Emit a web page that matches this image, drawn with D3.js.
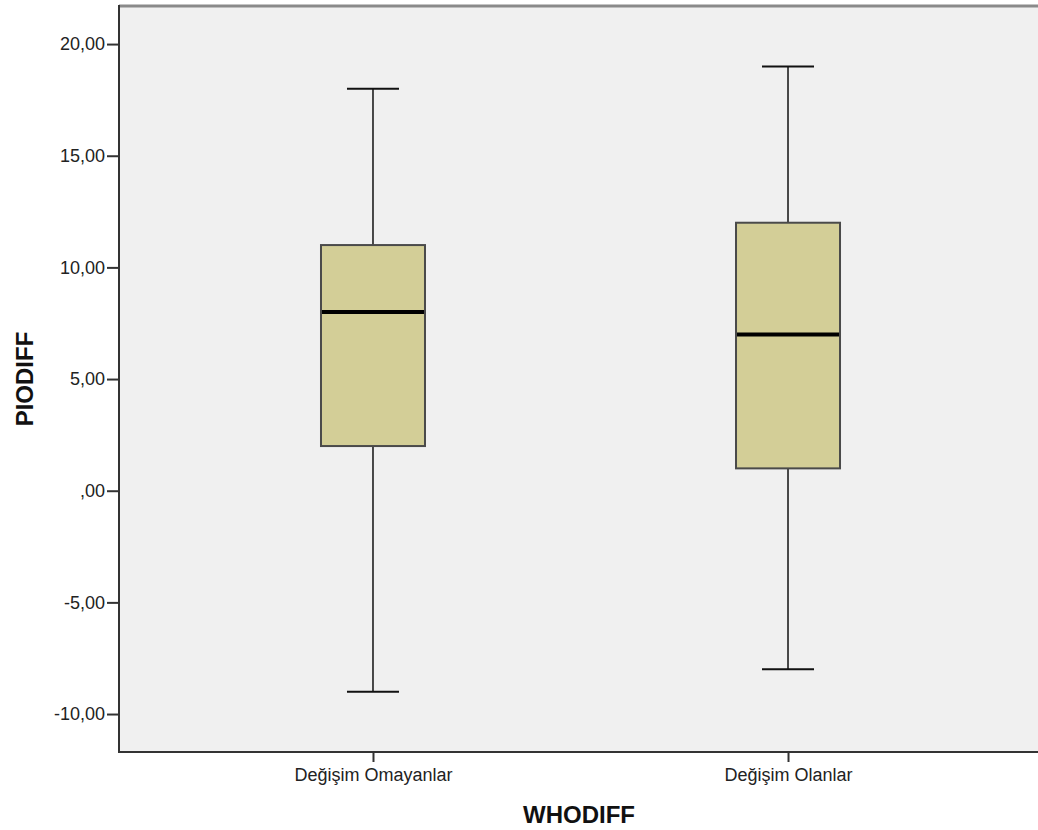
<!DOCTYPE html>
<html lang="tr">
<head>
<meta charset="utf-8">
<title>PIODIFF by WHODIFF</title>
<script src="https://cdn.jsdelivr.net/npm/d3@7"></script>
<style>
    body { margin: 0; background: #fff; }
    .axis text { font-family: "Liberation Sans", Arial, sans-serif; font-size: 18px; fill: #222; }
    .axis path, .axis line { stroke: #333; }
    .title { font-family: "Liberation Sans", Arial, sans-serif; font-weight: bold; font-size: 24px; fill: #111; }
</style>
</head>
<body>
<script>
var groups = ["Değişim Omayanlar", "Değişim Olanlar"];
var mins = [-9, -8];
var q1s = [2, 1];
var medians = [8, 7];
var q3s = [11, 12];
var maxs = [18, 19];
var yTicks = [-10, -5, 0, 5, 10, 15, 20];

var w = 1038, h = 830;
var plotL = 119, plotT = 7, plotR = 1038, plotB = 752;

var svg = d3.select("body").append("svg")
    .attr("width", w)
    .attr("height", h);

var xScale = d3.scalePoint()
    .domain(groups)
    .range([plotL, plotR + 4])
    .padding(0.612);

var yScale = d3.scaleLinear()
    .domain([-11.7, 21.66])
    .range([plotB, plotT]);

// plot background
svg.append("rect")
    .attr("x", plotL).attr("y", plotT)
    .attr("width", plotR - plotL).attr("height", plotB - plotT)
    .attr("fill", "#f0f0f0");

svg.append("line")
    .attr("x1", plotL).attr("x2", plotR)
    .attr("y1", plotT - 1).attr("y2", plotT - 1)
    .attr("stroke", "#8a8a8a").attr("stroke-width", 3);

// SPSS style: comma decimals, ",00" for zero, plain hyphen minus
var fmt = function(d) {
    if (d === 0) return ",00";
    return d.toFixed(2).replace(".", ",");
};

var yAxis = d3.axisLeft(yScale).tickValues(yTicks).tickFormat(fmt).tickSize(12).tickPadding(2);
var gy = svg.append("g").attr("class", "axis")
    .attr("transform", "translate(" + plotL + ",0)")
    .call(yAxis);
gy.select(".domain").attr("d", "M0," + (plotT - 2) + "V" + plotB).attr("stroke-width", 2);
gy.selectAll(".tick line").attr("stroke-width", 2);

var xAxis = d3.axisBottom(xScale).tickSize(10).tickPadding(6);
var gx = svg.append("g").attr("class", "axis")
    .attr("transform", "translate(0," + plotB + ")")
    .call(xAxis);
gx.select(".domain").attr("d", "M" + (plotL - 1) + ",0H" + plotR).attr("stroke-width", 2);
gx.selectAll(".tick line").attr("stroke-width", 2);

var boxW = 104, capW = 52;
var stats = groups.map(function(g, i) {
    return { g: g, min: mins[i], q1: q1s[i], med: medians[i], q3: q3s[i], max: maxs[i] };
});

var box = svg.selectAll(".box").data(stats).enter().append("g").attr("class", "box");

// whiskers
box.append("line")
    .attr("x1", function(d) { return xScale(d.g); })
    .attr("x2", function(d) { return xScale(d.g); })
    .attr("y1", function(d) { return yScale(d.max); })
    .attr("y2", function(d) { return yScale(d.min); })
    .attr("stroke", "#111").attr("stroke-width", 1.5);

box.selectAll(".cap")
    .data(function(d) { return [d.min, d.max].map(function(v) { return { g: d.g, v: v }; }); })
    .enter().append("line")
    .attr("x1", function(d) { return xScale(d.g) - capW / 2; })
    .attr("x2", function(d) { return xScale(d.g) + capW / 2; })
    .attr("y1", function(d) { return yScale(d.v); })
    .attr("y2", function(d) { return yScale(d.v); })
    .attr("stroke", "#111").attr("stroke-width", 2);

box.append("rect")
    .attr("x", function(d) { return xScale(d.g) - boxW / 2; })
    .attr("y", function(d) { return yScale(d.q3); })
    .attr("width", boxW)
    .attr("height", function(d) { return yScale(d.q1) - yScale(d.q3); })
    .attr("fill", "#d3ce97")
    .attr("stroke", "#4a4a4a").attr("stroke-width", 2);

box.append("line")
    .attr("x1", function(d) { return xScale(d.g) - boxW / 2 + 1; })
    .attr("x2", function(d) { return xScale(d.g) + boxW / 2 - 1; })
    .attr("y1", function(d) { return yScale(d.med); })
    .attr("y2", function(d) { return yScale(d.med); })
    .attr("stroke", "#000").attr("stroke-width", 4);

svg.append("text").attr("class", "title")
    .attr("x", 579).attr("y", 823)
    .attr("text-anchor", "middle")
    .text("WHODIFF");

svg.append("text").attr("class", "title")
    .attr("transform", "translate(33,379) rotate(-90)")
    .attr("text-anchor", "middle")
    .text("PIODIFF");
</script>
</body>
</html>
